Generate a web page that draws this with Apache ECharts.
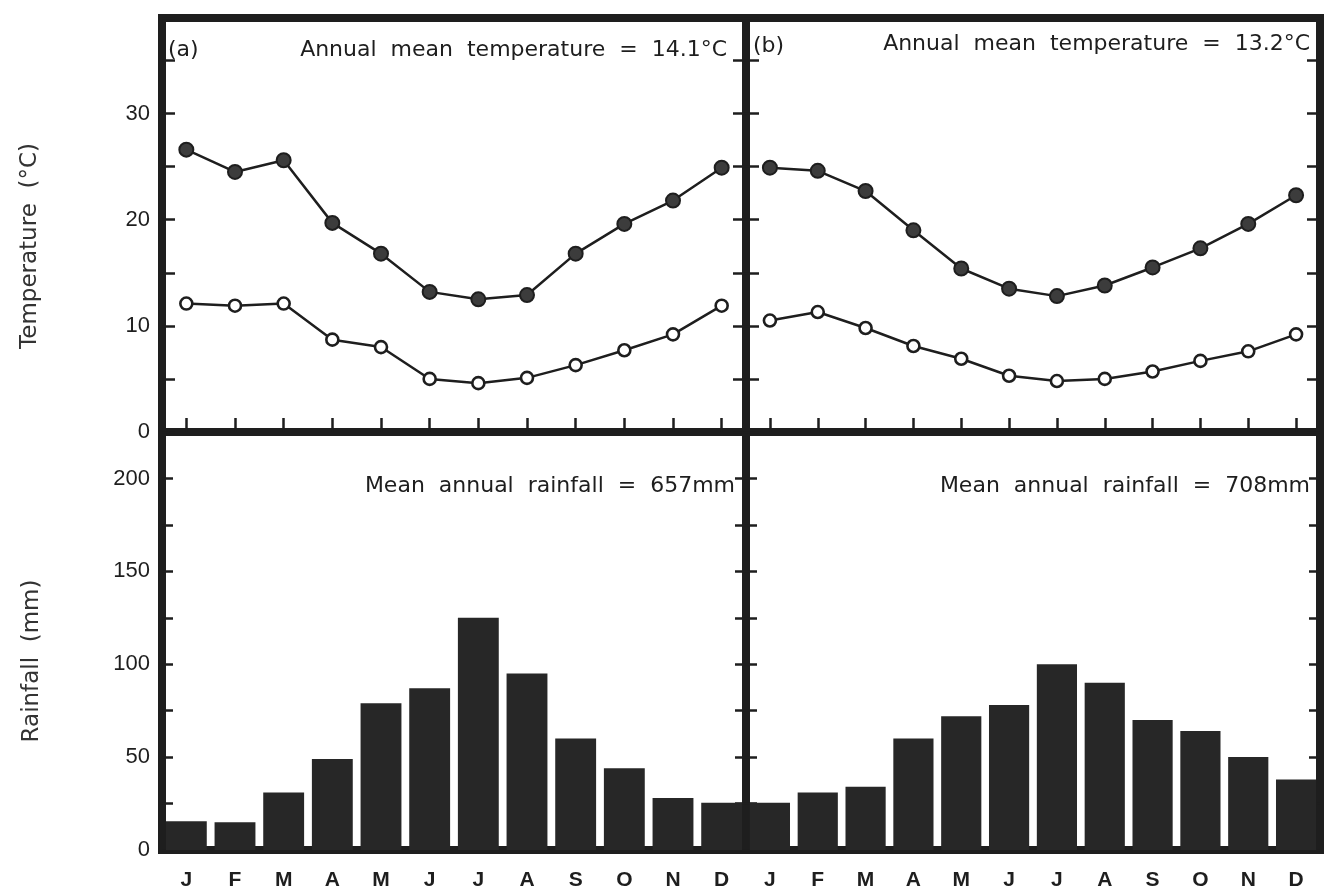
<!DOCTYPE html>
<html><head><meta charset="utf-8">
<script src="https://cdn.jsdelivr.net/npm/echarts@6/dist/echarts.min.js"></script>
<style>html,body{margin:0;padding:0;background:#fff}#c{width:1324px;height:892px}</style>
</head><body><div id="c"></div>
<script>
const months = ['J','F','M','A','M','J','J','A','S','O','N','D'];
const tempMaxA = [26.6,24.5,25.6,19.7,16.8,13.2,12.5,12.9,16.8,19.6,21.8,24.9];
const tempMinA = [12.1,11.9,12.1,8.7,8.0,5.0,4.6,5.1,6.3,7.7,9.2,11.9];
const tempMaxB = [24.9,24.6,22.7,19.0,15.4,13.5,12.8,13.8,15.5,17.3,19.6,22.3];
const tempMinB = [10.5,11.3,9.8,8.1,6.9,5.3,4.8,5.0,5.7,6.7,7.6,9.2];
const rainA = [15.5,15,31,49,79,87,125,95,60,44,28,25.5];
const rainB = [25.5,31,34,60,72,78,100,90,70,64,50,38];
const tempTickLabels = [0,10,20,30];
const rainTickLabels = [0,50,100,150,200];
const axisNames = {temp: 'Temperature  (\u00B0C)', rain: 'Rainfall  (mm)'};
const notes = {
  a: '(a)', b: '(b)',
  tA: 'Annual  mean  temperature  =  14.1\u00B0C',
  tB: 'Annual  mean  temperature  =  13.2\u00B0C',
  rA: 'Mean  annual  rainfall  =  657mm',
  rB: 'Mean  annual  rainfall  =  708mm'
};

const FONT = '"Liberation Sans", Arial, sans-serif';
const WIDE = '"DejaVu Sans", "Liberation Sans", sans-serif';
const INK = '#1e1e1e';
const FL = 162, FM = 746, FR = 1320, FT = 18, FH = 432, FB = 850;

const chart = echarts.init(document.getElementById('c'), null, {renderer: 'canvas'});

const gridStyle = {show: true, borderColor: INK, borderWidth: 8, backgroundColor: 'transparent', containLabel: false, outerBoundsMode: 'none'};

function xAx(gi, withLabels) {
  return {
    type: 'category', gridIndex: gi, data: months, boundaryGap: true,
    axisLine: {show: false},
    axisTick: withLabels ? {show: false} : {show: true, inside: true, alignWithLabel: true, length: 14, lineStyle: {color: INK, width: 2.5}},
    axisLabel: withLabels ? {show: true, margin: 20, fontSize: 21, fontWeight: 'bold', color: INK, fontFamily: FONT} : {show: false},
    splitLine: {show: false}
  };
}
function yAx(gi, pos, kind, showLabels) {
  const isT = kind === 't';
  const labels = isT ? tempTickLabels : rainTickLabels;
  return {
    type: 'value', gridIndex: gi, position: pos,
    min: 0, max: isT ? 39 : 225, interval: isT ? 5 : 25,
    axisLine: {show: false},
    axisTick: {show: true, inside: true, length: isT ? 13 : 11, lineStyle: {color: INK, width: 2.5}},
    axisLabel: showLabels ? {
      show: true, margin: 12, fontSize: 22, color: INK, fontFamily: FONT,
      formatter: v => labels.indexOf(v) >= 0 ? String(v) : ''
    } : {show: false},
    splitLine: {show: false}
  };
}

function lineSeries(xi, yi, data, filled) {
  return {
    type: 'line', xAxisIndex: xi, yAxisIndex: yi, data: data,
    symbol: 'circle', symbolSize: filled ? 14 : 12,
    lineStyle: {color: INK, width: 2.5},
    itemStyle: {color: filled ? '#3c3c3c' : '#ffffff', borderColor: INK, borderWidth: filled ? 2 : 2.6},
    z: filled ? 4 : 3, silent: true, animation: false
  };
}
function barSeries(xi, yi, data) {
  return {
    type: 'bar', xAxisIndex: xi, yAxisIndex: yi, data: data,
    barCategoryGap: '16%', itemStyle: {color: '#272727'}, silent: true, animation: false
  };
}

function txt(x, y, s, align) {
  return {type: 'text', x: x, y: y, z: 100, style: {text: s, fill: INK, fontSize: 22, fontFamily: WIDE, align: align, verticalAlign: 'middle'}};
}
function vtxt(x, y, s) {
  return {type: 'text', x: x, y: y, rotation: Math.PI / 2, z: 100, style: {text: s, fill: '#333', fontSize: 23, fontFamily: WIDE, align: 'center', verticalAlign: 'middle'}};
}

chart.setOption({
  animation: false,
  backgroundColor: '#ffffff',
  grid: [
    Object.assign({left: FL, top: FT, width: FM - FL, height: FH - FT}, gridStyle),
    Object.assign({left: FM, top: FT, width: FR - FM, height: FH - FT}, gridStyle),
    Object.assign({left: FL, top: FH, width: FM - FL, height: FB - FH}, gridStyle),
    Object.assign({left: FM, top: FH, width: FR - FM, height: FB - FH}, gridStyle)
  ],
  xAxis: [xAx(0, false), xAx(1, false), xAx(2, true), xAx(3, true)],
  yAxis: [
    yAx(0, 'left', 't', true),
    yAx(0, 'right', 't', false),
    yAx(1, 'left', 't', false),
    yAx(1, 'right', 't', false),
    yAx(2, 'left', 'r', true),
    yAx(2, 'right', 'r', false),
    yAx(3, 'left', 'r', false),
    yAx(3, 'right', 'r', false)
  ],
  series: [
    lineSeries(0, 0, tempMaxA, true),
    lineSeries(0, 0, tempMinA, false),
    lineSeries(1, 2, tempMaxB, true),
    lineSeries(1, 2, tempMinB, false),
    barSeries(2, 4, rainA),
    barSeries(3, 6, rainB)
  ],
  graphic: [
    vtxt(30, 246, axisNames.temp),
    vtxt(32, 661, axisNames.rain),
    txt(168, 50, notes.a, 'left'),
    txt(727, 50, notes.tA, 'right'),
    txt(753, 46, notes.b, 'left'),
    txt(1310, 44, notes.tB, 'right'),
    txt(735, 486, notes.rA, 'right'),
    txt(1310, 486, notes.rB, 'right')
  ]
});
</script>
</body></html>
